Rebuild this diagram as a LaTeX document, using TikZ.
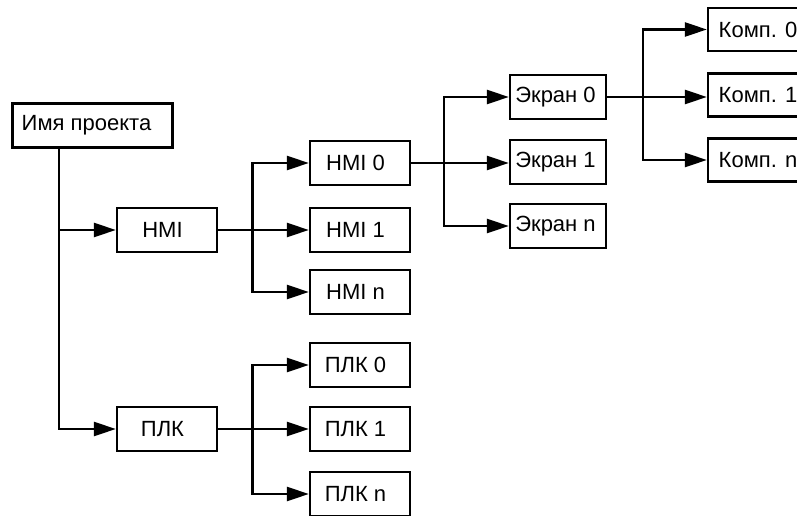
\documentclass[tikz,border=0pt]{standalone}
\usepackage{fontspec}
\setmainfont{Liberation Sans}
\usetikzlibrary{arrows.meta}
\begin{document}
\begin{tikzpicture}[x=1pt,y=-1pt,
  box/.style={draw,line width=2.3pt,minimum height=44pt,inner sep=0pt,font=\fontsize{22}{26}\selectfont},
  sh/.style={execute at begin node={\hspace*{-#1pt}}},
  wbox/.style={box,minimum width=100pt,sh=9},
  ebox/.style={box,minimum width=96pt,sh=5},
  kbox/.style={box,minimum width=120pt,minimum height=43pt,sh=20},
  link/.style={line width=2.4pt,line join=miter},
  arr/.style={link,-{Triangle[length=22pt,width=14pt]}}]
\useasboundingbox (0,0) rectangle (797,516);
\clip (0,0) rectangle (797,516);
\node[box,minimum width=160pt,sh=12] (root) at (92.5,125.5) {Имя проекта};
\node[wbox] (hmi) at (167,230) {HMI};
\node[wbox] (plk) at (167,429) {ПЛК};
\node[wbox] (hmi0) at (360,163) {HMI 0};
\node[wbox] (hmi1) at (360,230) {HMI 1};
\node[wbox] (hmin) at (360,292) {HMI n};
\node[wbox] (plk0) at (360,365) {ПЛК 0};
\node[wbox] (plk1) at (360,429) {ПЛК 1};
\node[wbox] (plkn) at (360,494) {ПЛК n};
\node[ebox] (ek0) at (558,97) {Экран 0};
\node[ebox] (ek1) at (558,162) {Экран 1};
\node[ebox] (ekn) at (558,226) {Экран n};
\node[kbox] (k0) at (768,29.5) {Комп. 0};
\node[kbox] (k1) at (768,95) {Комп. 1};
\node[kbox] (kn) at (768,160) {Комп. n};
\coordinate (t) at (59,0);
\coordinate (b1) at (252.5,0);
\coordinate (b2) at (444,0);
\coordinate (b3) at (643,0);
% root trunk
\draw[arr] (root.south -| t) |- (plk.west);
\draw[arr] (t |- hmi.west) -- (hmi.west);
% HMI branch
\draw[arr] (hmi.east) -- (hmi.east -| hmi1.west);
\draw[arr] (b1 |- hmi.east) |- (hmi0.west);
\draw[arr] (b1 |- hmi.east) |- (hmin.west);
% PLK branch
\draw[arr] (plk.east) -- (plk.east -| plk1.west);
\draw[arr] (b1 |- plk.east) |- (plk0.west);
\draw[arr] (b1 |- plk.east) |- (plkn.west);
% Screens
\draw[arr] (hmi0.east) -- (hmi0.east -| ek1.west);
\draw[arr] (b2 |- hmi0.east) |- (ek0.west);
\draw[arr] (b2 |- hmi0.east) |- (ekn.west);
% Components
\draw[arr] (ek0.east) -- (ek0.east -| k1.west);
\draw[arr] (b3 |- ek0.east) |- (k0.west);
\draw[arr] (b3 |- ek0.east) |- (kn.west);
\end{tikzpicture}
\end{document}
